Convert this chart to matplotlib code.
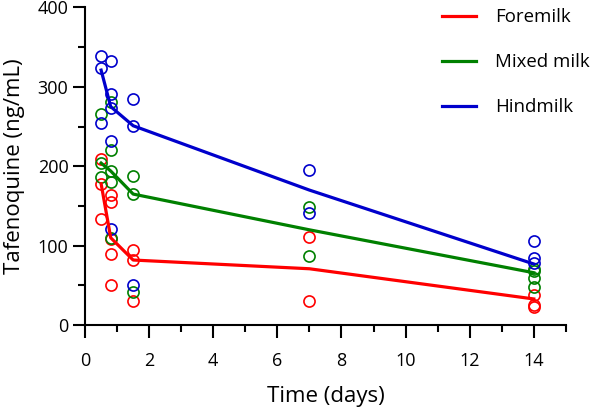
import matplotlib
matplotlib.use("Agg")
import matplotlib.pyplot as plt
from matplotlib.ticker import MultipleLocator

plt.rcParams['font.family'] = ['Open Sans', 'DejaVu Sans']

# individual samples (time in days, concentration in ng/mL)
fore_t = [0.5, 0.5, 0.5, 0.8, 0.8, 0.8, 0.8, 0.8, 1.5, 1.5, 1.5, 7, 7, 14, 14, 14]
fore_y = [209, 178, 134, 164, 155, 108, 90, 51, 94, 82, 31, 111, 30, 38, 26, 23]
mixed_t = [0.5, 0.5, 0.5, 0.8, 0.8, 0.8, 0.8, 0.8, 1.5, 1.5, 1.5, 7, 7, 14, 14, 14, 14]
mixed_y = [266, 204, 187, 281, 220, 194, 180, 110, 188, 165, 42, 149, 87, 71, 68, 60, 48]
hind_t = [0.5, 0.5, 0.5, 0.8, 0.8, 0.8, 0.8, 0.8, 1.5, 1.5, 1.5, 7, 7, 14, 14, 14]
hind_y = [339, 324, 255, 332, 291, 273, 232, 121, 285, 251, 50, 195, 141, 106, 85, 78]

# summary lines
line_t = [0.5, 0.8, 1.5, 7, 14]
fore_line = [178, 110, 82, 71, 33]
mixed_line = [204, 194, 165, 120, 66]
hind_line = [321, 275, 251, 170, 77]

colors = {'Foremilk': '#FF0000', 'Mixed milk': '#008000', 'Hindmilk': '#0000CC'}

fig = plt.figure(figsize=(5.95, 4.08), dpi=100)
ax = fig.add_axes([0.143, 0.203, 0.808, 0.779])

series = [
    ('Foremilk', fore_t, fore_y, fore_line),
    ('Mixed milk', mixed_t, mixed_y, mixed_line),
    ('Hindmilk', hind_t, hind_y, hind_line),
]
for name, t, y, ln in series:
    ax.plot(t, y, linestyle='none', marker='o', markersize=8, markerfacecolor='none',
            markeredgecolor=colors[name], markeredgewidth=1.2, clip_on=False)
for name, t, y, ln in series:
    ax.plot(line_t, ln, color=colors[name], linewidth=2.3, label=name)

ax.set_xlim(0, 15)
ax.set_ylim(0, 400)
ax.xaxis.set_major_locator(MultipleLocator(2))
ax.xaxis.set_minor_locator(MultipleLocator(1))
ax.yaxis.set_major_locator(MultipleLocator(100))
ax.yaxis.set_minor_locator(MultipleLocator(50))

for s in ['top', 'right']:
    ax.spines[s].set_visible(False)
for s in ['left', 'bottom']:
    ax.spines[s].set_linewidth(1.5)
ax.tick_params(which='major', length=9, width=1.5, labelsize=13)
ax.tick_params(which='minor', length=5, width=1.5)
ax.tick_params(axis='x', which='major', pad=10)
ax.tick_params(axis='y', which='major', pad=3)

ax.set_xlabel('Time (days)', fontsize=16, labelpad=12)
ax.set_ylabel('Tafenoquine (ng/mL)', fontsize=16, labelpad=9)

ax.legend(loc='upper right', frameon=False, fontsize=13.4, handlelength=1.83,
          handletextpad=1.0, labelspacing=1.45, borderaxespad=0.0,
          bbox_to_anchor=(1.065, 1.02))

fig.savefig('out.png', dpi=100)
